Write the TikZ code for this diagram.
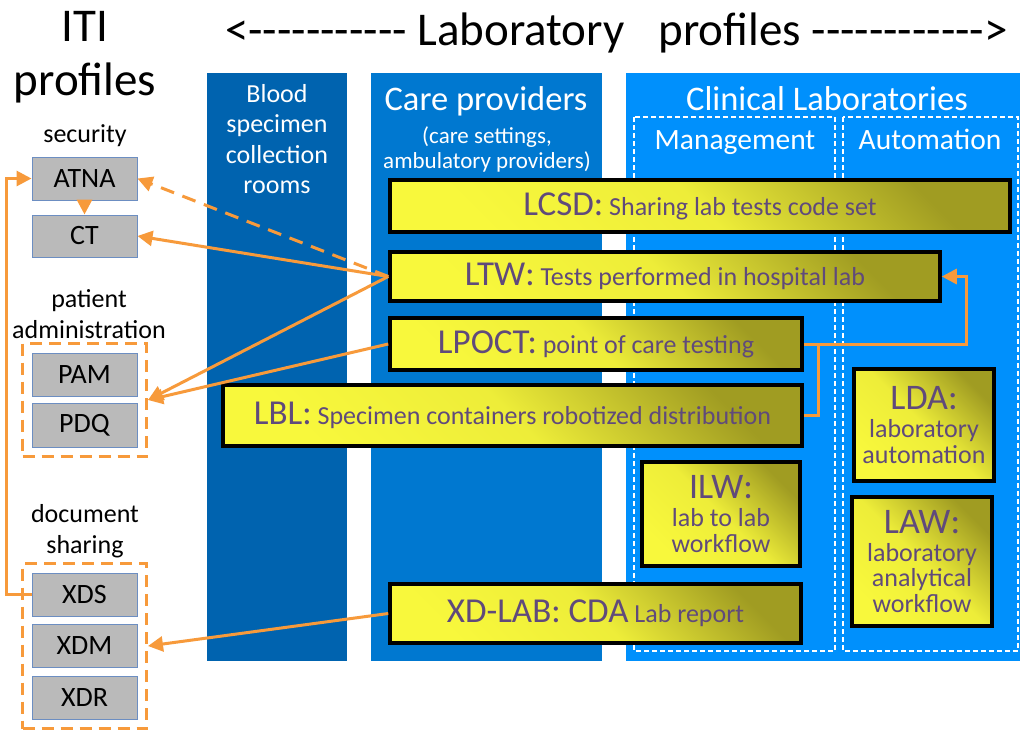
\documentclass[tikz,border=0pt]{standalone}
\usepackage{fontspec}
\setmainfont{Carlito}[Ligatures=TeXOff]
\usetikzlibrary{arrows.meta,fit,positioning}

\definecolor{bloodblue}{HTML}{0063AF}
\definecolor{careblue}{HTML}{0078D0}
\definecolor{clinblue}{HTML}{0090FC}
\definecolor{labyellow}{HTML}{F8F83C}
\definecolor{labolive}{HTML}{A09C22}
\definecolor{labtext}{HTML}{604A7B}
\definecolor{itigray}{HTML}{BABABA}
\definecolor{itiedge}{HTML}{6C8EC2}
\definecolor{linkorange}{HTML}{F79A3B}

\tikzset{
  labbox/.style={draw=black,line width=3.5pt,top color=labolive,bottom color=labyellow,
    middle color=labyellow!88!labolive,shading angle=-45,text=labtext,align=center,
    inner sep=0pt,font=\fontsize{26}{30}\selectfont},
  itibox/.style={draw=itiedge,line width=1pt,fill=itigray,minimum width=105pt,
    minimum height=43pt,inner sep=0pt,font=\fontsize{28}{32}\selectfont},
  itigroup/.style={draw=linkorange,line width=3pt,dash pattern=on 12pt off 7pt,inner sep=9pt},
  labgroup/.style={draw=white,line width=1.2pt,dash pattern=on 5pt off 3pt},
  grouplabel/.style={align=center,inner sep=0pt,font=\fontsize{26}{31}\selectfont},
  coltext/.style={text=white,align=center,inner sep=0pt},
  linkline/.style={draw=linkorange,line width=3pt},
  link/.style={linkline,-{Triangle[length=15pt,width=15pt]}}
}

\begin{document}
\begin{tikzpicture}[x=1pt,y=-1pt]
	\useasboundingbox (0,0) rectangle (1020,729);
	\fill[white] (0,0) rectangle (1020,729);
	
	% columns
	\fill[bloodblue] (207,73) rectangle (347,661);
	\fill[careblue] (371,73) rectangle (602,661);
	\fill[clinblue] (626,73) rectangle (1020,661);
	\draw[labgroup] (634,117) rectangle (835,651);
	\draw[labgroup] (843,117) rectangle (1018,651);
	
	% titles
	\node[anchor=base west,inner sep=0pt,font=\fontsize{47}{54}\selectfont] (titleleft)
	at (225,45) {<----------- Laboratory};
	\node[anchor=base east,inner sep=0pt,font=\fontsize{47}{54}\selectfont] (titleright)
	at (1008,45) {profiles ------------>};
	\node[anchor=north,align=center,inner sep=0pt,font=\fontsize{47}{54}\selectfont] (ititle)
	at (85,11) {ITI\\profiles};
	
	\node[coltext,anchor=north,font=\fontsize{26}{30.5}\selectfont] (bloodtext)
	at (277,84) {Blood\\specimen\\collection\\rooms};
	\node[coltext,anchor=north,font=\fontsize{34.5}{38}\selectfont] (caretext)
	at (486,86) {Care providers};
	\node[coltext,anchor=north,font=\fontsize{23}{25.5}\selectfont] (caresub)
	at (487,126) {(care settings,\\ambulatory providers)};
	\node[coltext,anchor=north,font=\fontsize{34.5}{38}\selectfont] (clintext)
	at (827,86) {Clinical Laboratories};
	\node[coltext,anchor=north,font=\fontsize{29.5}{32}\selectfont] (mgmttext)
	at (735,130) {Management};
	\node[coltext,anchor=north,font=\fontsize{29.5}{32}\selectfont] (autotext)
	at (930,129) {Automation};
	
	% lab profiles
	\node[labbox,minimum width=620pt,minimum height=52pt] (lcsd)
	at (700,206) {{\fontsize{35}{38}\selectfont LCSD:} Sharing lab tests code set};
	\node[labbox,minimum width=550pt,minimum height=49pt] (ltw)
	at (665,276.5) {{\fontsize{35}{38}\selectfont LTW:} Tests performed in hospital lab};
	\node[labbox,minimum width=412pt,minimum height=52pt] (lpoct)
	at (596,344) {{\fontsize{35}{38}\selectfont LPOCT:} point of care testing};
	\node[labbox,minimum width=579pt,minimum height=61pt] (lbl)
	at (512.5,415.5) {{\fontsize{35}{38}\selectfont LBL:} Specimen containers robotized distribution};
	\node[labbox,minimum width=158pt,minimum height=104pt,font=\fontsize{26}{26}\selectfont] (ilw)
	at (721,514) {{\fontsize{36}{38}\selectfont ILW:}\\[2pt]lab to lab\\workflow};
	\node[labbox,minimum width=140pt,minimum height=112pt,font=\fontsize{26}{26}\selectfont] (lda)
	at (924,425) {{\fontsize{36}{38}\selectfont LDA:}\\[2pt]laboratory\\automation};
	\node[labbox,minimum width=140pt,minimum height=129pt,font=\fontsize{26}{25.5}\selectfont] (law)
	at (922,561.5) {{\fontsize{36}{38}\selectfont LAW:}\\[2pt]laboratory\\analytical\\workflow};
	\node[labbox,minimum width=411pt,minimum height=59pt] (xdlab)
	at (595.5,613.5) {{\fontsize{35}{38}\selectfont XD-LAB: CDA} Lab report};
	
	% ITI profiles
	\node[grouplabel] (seclabel) at (85,136) {security};
	\node[itibox] (atna) at (84.5,178.5) {ATNA};
	\node[itibox,minimum height=42pt] (ct) at (84.5,236) {CT};
	
	\node[grouplabel] (admlabel) at (89,314) {patient\\administration};
	\node[itibox] (pam) at (84.5,374.5) {PAM};
	\node[itibox,minimum height=44pt] (pdq) at (84.5,425) {PDQ};
	\node[itigroup,fit=(pam)(pdq)] (admgroup) {};
	
	\node[grouplabel] (doclabel) at (85,531) {document\\sharing};
	\node[itibox] (xds) at (84.5,594.5) {XDS};
	\node[itibox] (xdm) at (84.5,645.5) {XDM};
	\node[itibox] (xdr) at (84.5,697.5) {XDR};
	\node[itigroup,fit=(xds)(xdr)] (docgroup) {};
	
	% connectors
	\coordinate (loopleft) at (6,0);
	\coordinate (rightbend) at (966,344);
	\coordinate (lbljoin) at (818,344);
	\draw[link] (atna) -- (ct);
	\draw[link] (xds.west) -- (xds.west -| loopleft) |- (atna.west);
	\draw[link,dash pattern=on 14pt off 9pt] (ltw.west) -- (atna.east);
	\draw[link] (ltw.west) -- (ct.east);
	\draw[link] (ltw.west) -- (admgroup.east);
	\draw[link] (lpoct.west) -- (admgroup.east);
	\draw[link] (xdlab.west) -- (docgroup.east);
	\draw[link] (lpoct.east) -- (rightbend) |- (ltw.east);
	\draw[linkline] (lbl.east) -| (lbljoin);
\end{tikzpicture}
\end{document}
